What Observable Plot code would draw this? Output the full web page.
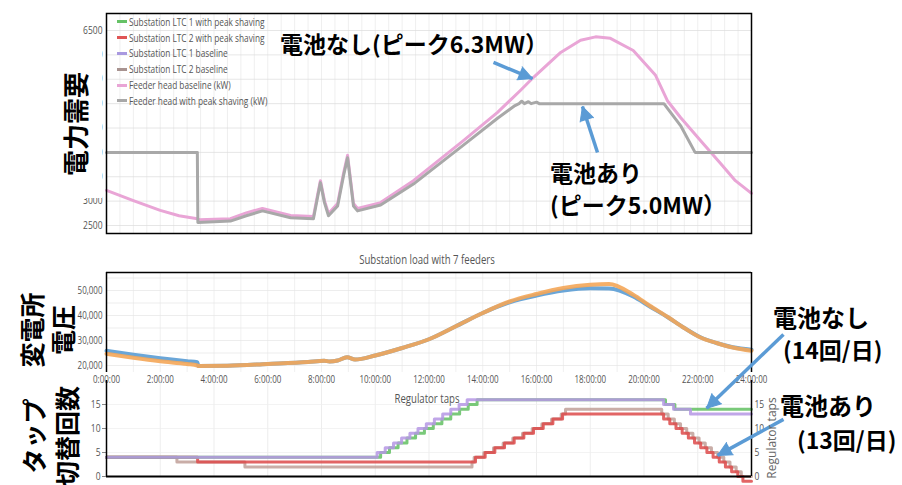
<!DOCTYPE html>
<html><head><meta charset="utf-8">
<script src="https://cdn.jsdelivr.net/npm/d3@7"></script>
<script src="https://cdn.jsdelivr.net/npm/@observablehq/plot@0.6"></script>
<style>
html,body{margin:0;padding:0;background:#fff;}
#root{position:relative;width:902px;height:485px;overflow:hidden;font-family:"Open Sans",sans-serif;}
.chart{position:absolute;left:0;}
.chart svg{overflow:visible;}
.jp{position:absolute;font-family:"Noto Sans CJK JP",sans-serif;font-weight:700;color:#000;white-space:nowrap;line-height:1;}
.vlab{position:absolute;font-family:"Noto Sans CJK JP",sans-serif;font-weight:700;color:#000;white-space:nowrap;text-align:center;transform:translate(-50%,-50%) rotate(-90deg);}
.cover{position:absolute;background:#fff;}
.note{position:absolute;color:#555;white-space:nowrap;font-family:"Open Sans",sans-serif;line-height:1;}
</style></head><body><div id="root"></div>
<script>
// ---------- data ----------
const feederHours = [0,1,2,2.7,3.38,3.45,4.61,5.2,5.8,6.85,7.7,7.85,7.96,8.11,8.26,8.6,8.82,8.97,9.19,9.34,10.2,11.42,13.28,14.55,15.4,15.89,16.9,17.64,18.2,18.75,19.6,20.43,20.87,21.36,22.1,22.85,23.4,24];
const feederBaseline = [3220,3010,2810,2700,2640,2620,2640,2760,2850,2705,2685,3115,3420,3010,2745,2950,3570,3940,2950,2850,2970,3420,4240,4820,5270,5540,6050,6300,6370,6340,6090,5580,5060,4715,4245,3770,3420,3160];
const shavingHours = [0,3.38,3.40,4.61,5.2,5.8,6.85,7.7,7.85,7.96,8.11,8.26,8.6,8.82,8.97,9.19,9.34,10.2,11.42,13.28,14.55,15.2,15.35,15.45,15.55,15.7,15.8,16.0,16.1,20.74,21.36,21.9,24];
const shavingLoad = [4000,4000,2560,2590,2700,2800,2660,2640,3070,3380,2970,2700,2900,3520,3890,2900,2800,2920,3350,4150,4700,4960,5000,5050,5000,5040,5000,5030,5000,5000,4550,4000,4000];

const loadHours = [0,1,2,3,3.38,3.42,4.5,6,7.5,8.1,8.3,8.6,8.95,9.25,10,11,12,13,14,15,16,17,18,18.7,19.6,20.2,20.9,21.5,22.1,22.7,23.3,24];
const loadBlue = [25900,24300,22900,21700,21300,19800,19900,20600,21400,21900,21600,22000,23300,22400,24000,27000,30500,35700,41000,45300,48000,50000,50900,50800,47600,43700,39200,35000,31300,29000,27300,26300];
const loadOrange = [24700,23100,21700,20600,20000,19800,19900,20600,21400,21900,21600,22000,23300,22400,24000,27000,30500,35700,41000,45600,48600,51000,52300,52600,48300,44000,39300,35000,31200,29000,27200,25900];

const ltc1BaseHours = [0,10.07,10.37,10.68,10.98,11.29,11.59,11.90,12.20,12.51,12.81,13.12,13.42,20.73,21.10,21.73,24];
const ltc1BaseTaps  = [4,5,6,7,8,9,10,11,12,13,14,15,16,15,14,13,13];
const ltc1ShaveHours = [0,10.20,10.53,10.85,11.18,11.50,11.83,12.16,12.48,12.81,13.14,13.46,13.79,20.80,21.15,24];
const ltc1ShaveTaps  = [4,5,6,7,8,9,10,11,12,13,14,15,16,15,14,14];
const ltc2ShaveHours = [0,3.39,13.73,14.09,14.45,14.81,15.17,15.53,15.89,16.25,16.61,16.97,20.73,20.96,21.19,21.42,21.65,21.88,22.11,22.34,22.57,22.80,23.03,23.26,23.49,23.68,24];
const ltc2ShaveTaps  = [4,3,4,5,6,7,8,9,10,11,12,13,12,11,10,9,8,7,6,5,4,3,2,1,0,-1,-1];
const ltc2BaseHours = [0,2.62,5.15,13.60,13.68,14.04,14.40,14.76,15.12,15.48,15.84,16.20,16.56,16.92,17.08,20.66,20.90,21.13,21.36,21.59,21.82,22.05,22.28,22.51,22.74,22.97,23.20,23.43,23.62,24];
const ltc2BaseTaps  = [4,3,2,3,4,5,6,7,8,9,10,11,12,13,14,13,12,11,10,9,8,7,6,5,4,3,2,1,0,0];

const legendLabels = ["Substation LTC 1 with peak shaving","Substation LTC 2 with peak shaving","Substation LTC 1 baseline","Substation LTC 2 baseline","Feeder head baseline (kW)","Feeder head with peak shaving (kW)"];
const legendColors = ["#66c266","#e05555","#a999e0","#a89390","#e9a5d6","#a8a8a8"];

const topTicks = [2500,3000,3500,4000,4500,5000,5500,6000,6500];
const loadTicks = [20000,30000,40000,50000];
const loadGrid = [20000,25000,30000,35000,40000,45000,50000,55000];
const tapTicks = [0,5,10,15];
const timeTicks = [0,2,4,6,8,10,12,14,16,18,20,22,24];
const hourGrid = [0,1,2,3,4,5,6,7,8,9,10,11,12,13,14,15,16,17,18,19,20,21,22,23,24];
const halfHourGrid = [0,0.5,1,1.5,2,2.5,3,3.5,4,4.5,5,5.5,6,6.5,7,7.5,8,8.5,9,9.5,10,10.5,11,11.5,12,12.5,13,13.5,14,14.5,15,15.5,16,16.5,17,17.5,18,18.5,19,19.5,20,20.5,21,21.5,22,22.5,23,23.5,24];

// callout arrows, in data units of the panel they sit on
const topCallouts = [
  {x1:14.4, y1:5844, x2:15.85, y2:5515},
  {x1:18.27, y1:3997, x2:17.71, y2:4941}
];
const tapCallouts = [
  {x1:25.19, y1:29.6, x2:22.33, y2:14.2},
  {x1:25.19, y1:11.9, x2:22.74, y2:4.4}
];

// ---------- helpers ----------
const root = document.getElementById("root");
const zip = (xs, ys) => xs.map((x, i) => ({x, y: ys[i]}));
function squeeze(svg, k) {
  svg.querySelectorAll('g[aria-label$="tick label"] text').forEach(t => {
    t.setAttribute("transform", (t.getAttribute("transform") || "") + ` scale(${k},1)`);
  });
}
function place(svg, top) {
  const d = document.createElement("div");
  d.className = "chart"; d.style.top = top + "px";
  d.appendChild(svg); root.appendChild(d);
}
const W = 902, ML = 106, MR = 151;
const baseStyle = {background: "transparent", color: "#555", fontSize: "10px", fontFamily: "Open Sans, sans-serif", overflow: "visible"};
const blue = "#5b9bd5";
// arrow = shaft (link) + filled triangular head (spike vector), head rotated along the shaft on screen
function callout(data, xDomain, yDomain, height, mt, mb) {
  const sx = d3.scaleLinear(xDomain, [ML, W - MR]);
  const sy = d3.scaleLinear(yDomain, [height - mb, mt]);
  const rot = d => Math.atan2(sx(d.x2) - sx(d.x1), -(sy(d.y2) - sy(d.y1))) * 180 / Math.PI;
  return [
    Plot.link(data, {x1: "x1", y1: "y1", x2: "x2", y2: "y2", stroke: blue, strokeWidth: 3.5}),
    Plot.vector(data, {x: "x2", y: "y2", rotate: rot, length: 14, r: 7, shape: "spike", anchor: "end", fill: blue, stroke: blue, strokeWidth: 1})
  ];
}

// ---------- top panel ----------
const topDomain = [2336, 6849];
const topPlot = Plot.plot({
  width: W, height: 240,
  marginLeft: ML, marginRight: MR, marginTop: 13, marginBottom: 7,
  x: {domain: [0, 24], axis: null},
  y: {domain: topDomain},
  style: baseStyle,
  marks: [
    Plot.gridX(halfHourGrid, {stroke: "#e4e4e4", strokeOpacity: 0.6}),
    Plot.gridY(topTicks, {stroke: "#dcdcdc", strokeOpacity: 0.7}),
    Plot.axisY(topTicks, {tickSize: 0, tickPadding: 4, label: null, tickFormat: d => String(d), fill: "#555"}),
    Plot.line(zip(feederHours, feederBaseline), {x: "x", y: "y", stroke: "#e9a5d6", strokeWidth: 3}),
    Plot.line(zip(shavingHours, shavingLoad), {x: "x", y: "y", stroke: "#a8a8a8", strokeWidth: 3}),
    Plot.frame({stroke: "black", strokeWidth: 1.5, strokeOpacity: 1}),
    ...callout(topCallouts, [0, 24], topDomain, 240, 13, 7)
  ]
});
squeeze(topPlot, 0.85);
place(topPlot, 0);

// ---------- middle panel ----------
const loadDomain = [17200, 57200];
const midPlot = Plot.plot({
  width: W, height: 150,
  marginLeft: ML, marginRight: MR, marginTop: 32, marginBottom: 18,
  x: {domain: [0, 24]},
  y: {domain: loadDomain},
  style: baseStyle,
  marks: [
    Plot.gridX(hourGrid, {stroke: "#e6e6e6", strokeOpacity: 0.6}),
    Plot.gridY(loadGrid, {stroke: "#e6e6e6", strokeOpacity: 0.7}),
    Plot.axisY(loadTicks, {tickSize: 0, tickPadding: 4, label: null, tickFormat: d3.format(","), fill: "#555"}),
    Plot.axisX(timeTicks, {tickSize: 0, tickPadding: 3, label: null, tickFormat: d => d + ":00:00", fill: "#555"}),
    Plot.line(zip(loadHours, loadBlue), {x: "x", y: "y", stroke: "#6aa6d8", strokeWidth: 4, curve: "monotone-x"}),
    Plot.line(zip(loadHours, loadOrange), {x: "x", y: "y", stroke: "#f4a658", strokeWidth: 4, strokeOpacity: 0.9, curve: "monotone-x"}),
    Plot.ruleY([loadDomain[1]], {stroke: "black", strokeWidth: 1.5}),
    Plot.ruleX([0, 24], {stroke: "black", strokeWidth: 1.5})
  ]
});
squeeze(midPlot, 0.8);
place(midPlot, 240);

// ---------- bottom panel ----------
const tapDomain = [0, 20];
const tapLine = (h, t, color) => Plot.line(zip(h, t), {x: "x", y: "y", stroke: color, strokeWidth: 3, strokeOpacity: 0.85, curve: "step-after"});
const botPlot = Plot.plot({
  width: W, height: 105,
  marginLeft: ML, marginRight: MR, marginTop: 0, marginBottom: 9,
  x: {domain: [0, 24], axis: null},
  y: {domain: tapDomain},
  style: baseStyle,
  marks: [
    Plot.gridX(timeTicks, {stroke: "#e6e6e6", strokeOpacity: 0.7}),
    Plot.gridY(tapTicks, {stroke: "#eeeeee", strokeOpacity: 0.7}),
    Plot.axisY(tapTicks, {anchor: "left", tickSize: 4, tickPadding: 2, label: null, fill: "#555", stroke: "#888"}),
    Plot.axisY(tapTicks, {anchor: "right", tickSize: 0, tickPadding: 3, label: null, fill: "#555"}),
    tapLine(ltc2BaseHours, ltc2BaseTaps, "#bf9f98"),
    tapLine(ltc2ShaveHours, ltc2ShaveTaps, "#dd4a4a"),
    tapLine(ltc1ShaveHours, ltc1ShaveTaps, "#62bf62"),
    tapLine(ltc1BaseHours, ltc1BaseTaps, "#b597e4"),
    Plot.ruleX([0, 24], {stroke: "black", strokeWidth: 1.5}),
    Plot.ruleY([tapDomain[0]], {stroke: "black", strokeWidth: 2}),
    ...callout(tapCallouts, [0, 24], tapDomain, 105, 0, 9)
  ]
});
squeeze(botPlot, 0.85);
place(botPlot, 380);

// ---------- overlays ----------
function div(cls, text, css) {
  const d = document.createElement("div");
  d.className = cls; d.textContent = text;
  Object.assign(d.style, css); root.appendChild(d); return d;
}
// covers behind the rotated Japanese axis titles
div("cover", "", {left: "55px", top: "44px", width: "47px", height: "154px"});
div("cover", "", {left: "8px", top: "284px", width: "68px", height: "90px"});

// legend
const leg = document.createElement("div");
Object.assign(leg.style, {position: "absolute", left: "112px", top: "14px", width: "170px", height: "97px", overflow: "hidden"});
root.appendChild(leg);
const legY = [21.7, 37.5, 53.3, 69.1, 85.0, 100.8];
legendLabels.forEach((lab, i) => {
  const sw = document.createElement("div");
  Object.assign(sw.style, {position: "absolute", left: "5px", top: (legY[i] - 14 - 1.5) + "px", width: "10px", height: "3px", background: legendColors[i]});
  leg.appendChild(sw);
  const tx = document.createElement("div");
  tx.textContent = lab;
  Object.assign(tx.style, {position: "absolute", left: "17px", top: (legY[i] - 14 - 8) + "px", fontSize: "11.5px", lineHeight: "16px", color: "#555", whiteSpace: "nowrap", transform: "scaleX(0.72)", transformOrigin: "left center", fontFamily: "Open Sans, sans-serif"});
  leg.appendChild(tx);
});

// panel titles
function centered(text, cx, cy, size, k) {
  return div("note", text, {fontSize: size + "px", left: cx + "px", top: cy + "px", transform: `translate(-50%,-50%) scaleX(${k})`});
}
centered("Substation load with 7 feeders", 427, 260, 12, 0.8);
centered("Regulator taps", 427, 399, 12, 0.8);
div("note", "Regulator taps", {fontSize: "12px", left: "772px", top: "438px", color: "#666", transform: "translate(-50%,-50%) rotate(-90deg)"});

// Japanese annotations
function jp(text, left, cy, size) {
  return div("jp", text, {left: left + "px", top: (cy - 0.55 * size) + "px", fontSize: size + "px"});
}
jp("電池なし(ピーク6.3MW）", 280, 45, 23);
jp("電池あり", 550, 174, 23);
jp("(ピーク5.0MW）", 550, 206, 23);
jp("電池なし", 773, 318, 24);
jp("(14回/日)", 783, 351, 23);
jp("電池あり", 780, 406, 24);
jp("(13回/日)", 797, 441, 23);

// rotated axis titles
function vlab(lines, cx, cy, size, lh) {
  const d = document.createElement("div");
  d.className = "vlab";
  d.innerHTML = lines.join("<br>");
  Object.assign(d.style, {left: cx + "px", top: cy + "px", fontSize: size + "px", lineHeight: lh + "px"});
  root.appendChild(d);
}
vlab(["電力需要"], 75, 124, 26, 30);
vlab(["変電所", "電圧"], 47, 330, 25, 31);
vlab(["タップ", "切替回数"], 50, 436, 25, 33);
</script>
</body></html>
